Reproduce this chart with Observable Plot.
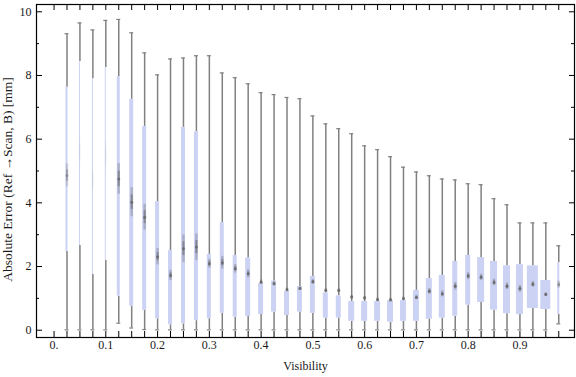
<!DOCTYPE html>
<html>
<head>
<meta charset="utf-8">
<script src="https://cdn.jsdelivr.net/npm/d3@7"></script>
<script src="https://cdn.jsdelivr.net/npm/@observablehq/plot@0.6"></script>
<style>
  html, body { margin: 0; padding: 0; background: #fff; }
  svg { display: block; }
</style>
</head>
<body>
<div id="chart"></div>
<script>
// Visibility bins (box positions)
const visibility = [0.025, 0.05, 0.075, 0.1, 0.125, 0.15, 0.175, 0.2, 0.225, 0.25,
  0.275, 0.3, 0.325, 0.35, 0.375, 0.4, 0.425, 0.45, 0.475, 0.5,
  0.525, 0.55, 0.575, 0.6, 0.625, 0.65, 0.675, 0.7, 0.725, 0.75,
  0.775, 0.8, 0.825, 0.85, 0.875, 0.9, 0.925, 0.95, 0.975];
// Whisker low / Q1 / median / Q3 / whisker high  [mm]
const whiskerLow = [0.01, 0.01, 0.01, 0.01, 0.22, 0.07, 0.02, 0.01, 0.01, 0.01,
  0.01, 0.01, 0.01, 0.01, 0.01, 0.01, 0.01, 0.01, 0.01, 0.01,
  0.01, 0.01, 0.01, 0.01, 0.01, 0.01, 0.01, 0.01, 0.01, 0.01,
  0.01, 0.01, 0.01, 0.01, 0.01, 0.01, 0.01, 0.01, 0.20];
const quart1 = [2.47, 2.66, 1.75, 2.19, 1.07, 0.75, 0.62, 0.36, 0.17, 0.20,
  0.30, 0.36, 0.53, 0.41, 0.43, 0.49, 0.57, 0.46, 0.57, 0.53,
  0.38, 0.38, 0.28, 0.28, 0.28, 0.25, 0.28, 0.28, 0.34, 0.38,
  0.44, 0.79, 0.87, 0.63, 0.52, 0.49, 0.68, 0.65, 0.49];
const median = [4.86, 5.59, 4.70, 5.49, 4.75, 4.02, 3.55, 2.31, 1.72, 2.56,
  2.61, 2.09, 2.12, 1.93, 1.77, 1.51, 1.46, 1.27, 1.31, 1.52,
  1.25, 1.25, 1.04, 1.01, 0.96, 0.95, 0.99, 1.03, 1.22, 1.14,
  1.38, 1.70, 1.66, 1.50, 1.38, 1.30, 1.44, 1.12, 1.43];
const quart3 = [7.63, 8.44, 7.90, 8.25, 7.97, 7.25, 6.40, 4.04, 2.50, 6.37,
  6.23, 2.38, 3.38, 2.35, 2.27, 1.46, 1.54, 1.22, 1.37, 1.69,
  1.17, 1.08, 0.90, 0.90, 0.90, 0.93, 0.93, 1.25, 1.62, 1.72,
  2.16, 2.35, 2.28, 2.16, 2.02, 2.06, 2.02, 1.56, 2.12];
const whiskerHigh = [9.31, 9.65, 9.43, 9.73, 9.76, 9.34, 8.71, 8.02, 8.52, 8.55,
  8.62, 8.62, 8.08, 7.93, 7.74, 7.46, 7.40, 7.31, 7.27, 6.73,
  6.48, 6.33, 6.17, 5.79, 5.67, 5.45, 5.12, 4.97, 4.85, 4.75,
  4.72, 4.60, 4.57, 4.13, 3.94, 3.37, 3.37, 3.37, 2.65];
// Relative box weight (box widths differ per bin)
const boxWeight = [2, 1, 1, 1, 3, 4, 4, 4, 4, 4,
  4, 4, 4, 4, 5, 5, 5, 5, 5, 5,
  5, 5, 6, 6, 6, 6, 6, 6, 6, 6,
  5, 5, 7, 7, 7, 7, 11, 10, 2];

const xTickValues = [0, 0.1, 0.2, 0.3, 0.4, 0.5, 0.6, 0.7, 0.8, 0.9];
const xTickLabels = ["0.", "0.1", "0.2", "0.3", "0.4", "0.5", "0.6", "0.7", "0.8", "0.9"];
const yTickValues = [0, 2, 4, 6, 8, 10];
const yTickLabels = ["0", "2", "4", "6", "8", "10"];
const yMinorTicks = [1, 3, 5, 7, 9];
const xLabel = "Visibility";
const yLabel = "Absolute Error (Ref \u2192Scan, B) [mm]";

const W = 576, H = 377;
const mL = 36, mR = 2, mT = 4, mB = 40;
const xDom = [-0.0339, 1.0054];
const yDom = [-0.229, 10.229];
const pxX = (W - mL - mR) / (xDom[1] - xDom[0]);
const pxY = (H - mT - mB) / (yDom[1] - yDom[0]);

const data = visibility.map((v, i) => ({
  x: v, lo: whiskerLow[i], q1: quart1[i], med: median[i], q3: quart3[i], hi: whiskerHigh[i], w: boxWeight[i]
})).map(d => ({...d, g: Math.max(0.05, 0.07 * Math.abs(d.q3 - d.q1))}));

const xMinor = d3.range(0, 40).map(i => i * 0.025);
const cap = 2 / pxX;
const grey = "#808080";
const font = "'Liberation Serif', 'Times New Roman', serif";

const chart = Plot.plot({
  width: W, height: H,
  marginLeft: mL, marginRight: mR, marginTop: mT, marginBottom: mB,
  x: {domain: xDom, axis: null},
  y: {domain: yDom, axis: null},
  style: {fontFamily: font, fontSize: "12px", background: "white"},
  marks: [
    // whiskers
    Plot.ruleX(data, {x: "x", y1: "lo", y2: "q1", stroke: grey, strokeWidth: 1.5}),
    Plot.ruleX(data, {x: "x", y1: "q3", y2: "hi", stroke: grey, strokeWidth: 1.5}),
    Plot.ruleY(data, {y: "lo", x1: d => d.x - cap, x2: d => d.x + cap, stroke: grey, strokeWidth: 1.2}),
    Plot.ruleY(data, {y: "hi", x1: d => d.x - cap, x2: d => d.x + cap, stroke: grey, strokeWidth: 1.2}),
    // boxes
    Plot.rect(data, {
      x1: d => d.x - d.w / 2 / pxX, x2: d => d.x + d.w / 2 / pxX,
      y1: "q1", y2: "q3", fill: "#ccd2f4"
    }),
    // median markers
    Plot.ruleX(data, {x: "x", y1: d => d.med - d.g, y2: d => d.med + d.g,
      stroke: "#606060", strokeOpacity: d => d.w < 2 ? 0.06 : d.w < 3 ? 0.2 : 0.3, strokeWidth: d => d.w < 2 ? 1 : 2.5}),
    Plot.ruleX(data, {x: "x", y1: d => d.med - d.g / 2, y2: d => d.med + d.g / 2,
      stroke: "#555", strokeOpacity: d => d.w < 2 ? 0.08 : d.w < 3 ? 0.3 : 0.45, strokeWidth: d => d.w < 2 ? 1 : 2}),
    Plot.dot(data.filter(d => d.w >= 2), {x: "x", y: "med", r: 1.5, fill: "#6a6a6a", fillOpacity: d => d.w < 3 ? 0.4 : 0.85}),
    // frame ticks (inward)
    Plot.ruleX(xMinor, {x: d => d, y1: yDom[0], y2: yDom[0] + 6 / pxY, stroke: "black", strokeWidth: 1}),
    Plot.ruleX(xMinor, {x: d => d, y1: yDom[1] - 6 / pxY, y2: yDom[1], stroke: "black", strokeWidth: 1}),
    Plot.ruleY(yTickValues, {y: d => d, x1: xDom[0], x2: xDom[0] + 6 / pxX, stroke: "black", strokeWidth: 1}),
    Plot.ruleY(yMinorTicks, {y: d => d, x1: xDom[0], x2: xDom[0] + 3 / pxX, stroke: "black", strokeWidth: 1}),
    Plot.ruleY(yTickValues, {y: d => d, x1: xDom[1] - 5 / pxX, x2: xDom[1], stroke: "black", strokeWidth: 1}),
    Plot.ruleY(yMinorTicks, {y: d => d, x1: xDom[1] - 3 / pxX, x2: xDom[1], stroke: "black", strokeWidth: 1}),
    Plot.frame({stroke: "black", strokeWidth: 1.2}),
    // tick labels
    Plot.text(xTickValues, {x: d => d, frameAnchor: "bottom", dy: 11, text: (d, i) => xTickLabels[i], fill: "#1a1a1a"}),
    Plot.text(yTickValues, {y: d => d, frameAnchor: "left", textAnchor: "end", dx: -5, text: (d, i) => yTickLabels[i], fill: "#1a1a1a"}),
    // axis titles
    Plot.text([xLabel], {frameAnchor: "bottom", dy: 32, text: d => d, fill: "#1a1a1a"}),
    Plot.text([yLabel], {frameAnchor: "left", textAnchor: "middle", rotate: -90, dx: -28.5, dy: 8.5,
      fontSize: 13.5, text: d => d, fill: "#1a1a1a"})
  ]
});
document.getElementById("chart").appendChild(chart);
</script>
</body>
</html>
